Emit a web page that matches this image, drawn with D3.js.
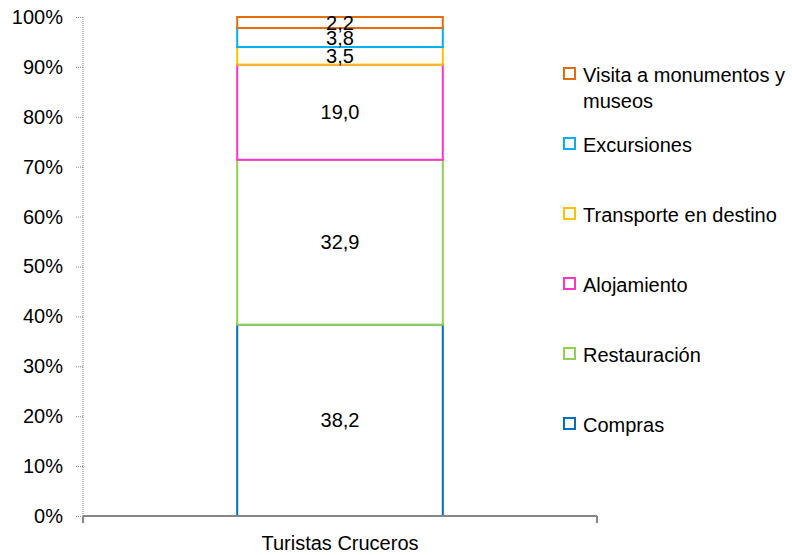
<!DOCTYPE html>
<html>
<head>
<meta charset="utf-8">
<script src="https://cdn.jsdelivr.net/npm/d3@7"></script>
<style>
  body { margin: 0; background: #fff; }
  text { font-family: "Liberation Sans", Arial, sans-serif; fill: #000; }
</style>
</head>
<body>
<div id="chart"></div>
<script>
// chart data
const categories = ["Turistas Cruceros"];
const seriesNames = ["Compras", "Restauración", "Alojamiento", "Transporte en destino", "Excursiones", "Visita a monumentos y museos"];
const seriesValues = [38.2, 32.9, 19.0, 3.5, 3.8, 2.2];
const seriesColors = ["#0070C0", "#92D050", "#FF33CC", "#FFC000", "#00B0F0", "#E46C0A"];
const yTicks = [0, 0.1, 0.2, 0.3, 0.4, 0.5, 0.6, 0.7, 0.8, 0.9, 1];

const width = 792;
const height = 555;

const svg = d3.select("#chart")
  .append("svg")
    .attr("width", width)
    .attr("height", height);

// one row per category, one column per series
const row = { cat: categories[0] };
seriesNames.forEach((s, i) => row[s] = seriesValues[i]);

const stacked = d3.stack()
  .keys(seriesNames)
  .offset(d3.stackOffsetExpand)([row]);

const x = d3.scaleBand()
  .domain(categories)
  .range([83, 597])
  .paddingInner(0.6)
  .paddingOuter(0.3);

const y = d3.scaleLinear()
  .domain([0, 1])
  .range([516, 17]);

// y axis (dotted)
const yAxis = svg.append("g")
  .attr("transform", "translate(83,0)")
  .call(d3.axisLeft(y).tickValues(yTicks).tickFormat(d3.format(".0%")).tickSize(7).tickPadding(13));
yAxis.select(".domain")
  .attr("stroke", "#868686")
  .attr("stroke-dasharray", "1,1")
  .attr("d", `M0,${y(1)}V${y(0)}`);
yAxis.selectAll(".tick line")
  .attr("stroke", "#868686")
  .attr("stroke-dasharray", "1,1");
yAxis.selectAll(".tick text")
  .style("font-size", "20px")
  .attr("fill", "#000");

// bars
svg.append("g")
  .selectAll("rect")
  .data(stacked)
  .join("rect")
    .attr("x", x(categories[0]))
    .attr("width", x.bandwidth())
    .attr("y", d => y(d[0][1]))
    .attr("height", d => y(d[0][0]) - y(d[0][1]))
    .attr("fill", "#fff")
    .attr("stroke", (d, i) => seriesColors[i])
    .attr("stroke-width", 2);

// x axis
svg.append("g")
  .attr("transform", `translate(0,${y(0)})`)
  .call(g => {
    g.append("line")
      .attr("x1", x.range()[0]).attr("x2", x.range()[1])
      .attr("stroke", "#868686").attr("stroke-width", 2);
    g.selectAll(".endtick")
      .data(x.range())
      .join("line")
        .attr("x1", d => d).attr("x2", d => d)
        .attr("y1", 0).attr("y2", 7)
        .attr("stroke", "#868686").attr("stroke-width", 2);
  });

svg.append("text")
  .attr("x", x(categories[0]) + x.bandwidth() / 2)
  .attr("y", 550)
  .attr("text-anchor", "middle")
  .style("font-size", "20px")
  .text(categories[0]);

// value labels
svg.append("g")
  .selectAll("text")
  .data(stacked)
  .join("text")
    .attr("x", x(categories[0]) + x.bandwidth() / 2)
    .attr("y", d => y((d[0][0] + d[0][1]) / 2))
    .attr("dy", "0.35em")
    .attr("text-anchor", "middle")
    .style("font-size", "20px")
    .text((d, i) => d3.format(".1f")(seriesValues[i]).replace(".", ","));

// legend, top to bottom in reverse stack order
const legend = svg.append("g")
  .selectAll("g")
  .data(seriesNames.map((s, i) => ({ name: s, color: seriesColors[i] })).reverse())
  .join("g")
    .attr("transform", (d, i) => `translate(563,${73.5 + i * 70})`);

legend.append("rect")
  .attr("x", 1).attr("y", -5.5)
  .attr("width", 11).attr("height", 11)
  .attr("fill", "#fff")
  .attr("stroke", d => d.color)
  .attr("stroke-width", 2);

legend.append("text")
  .style("font-size", "20px")
  .each(function(d) {
    const t = d3.select(this);
    const words = d.name.split(" ");
    let line = [];
    let tspan = t.append("tspan").attr("x", 20).attr("dy", "0.4em");
    words.forEach(w => {
      line.push(w);
      tspan.text(line.join(" "));
      if (tspan.node().getComputedTextLength() > 209 && line.length > 1) {
        line.pop();
        tspan.text(line.join(" "));
        line = [w];
        tspan = t.append("tspan").attr("x", 20).attr("dy", 26).text(w);
      }
    });
  });
</script>
</body>
</html>
